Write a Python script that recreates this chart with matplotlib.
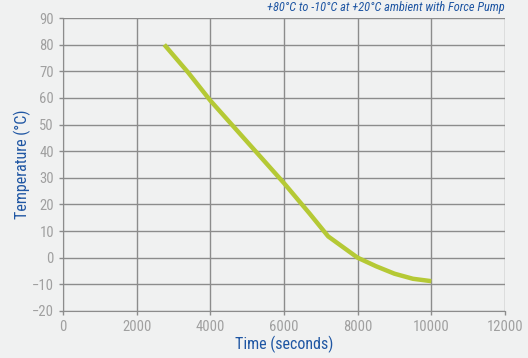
import matplotlib
matplotlib.use("Agg")
import matplotlib.pyplot as plt

time_s = [2750, 3400, 4000, 5000, 6000, 6700, 7200, 7600, 8000, 8500, 9000, 9500, 10000]
temp_c = [80, 69.5, 59, 43.5, 28, 16.5, 8, 4, 0, -3.2, -6, -7.9, -8.8]
xticks = [0, 2000, 4000, 6000, 8000, 10000, 12000]
yticks = [-20, -10, 0, 10, 20, 30, 40, 50, 60, 70, 80, 90]
title = "+80°C to -10°C at +20°C ambient with Force Pump"

fam = ["Roboto Condensed", "Roboto", "DejaVu Sans"]
bg = "#f0f1f1"
grid = "#8c8c8c"
blue = "#1f56a3"

fig = plt.figure(figsize=(5.28, 3.58), dpi=100, facecolor=bg)
ax = fig.add_axes([63/528, 47/358, 442/528, 293/358], facecolor=bg)
ax.plot(time_s, temp_c, color="#b5c935", lw=3.2, solid_capstyle="butt", zorder=3)
ax.set_xlim(0, 12000)
ax.set_ylim(-20, 90)
ax.set_xticks(xticks)
ax.set_yticks(yticks)
ax.grid(True, color=grid, lw=1)
for s in ax.spines.values():
    s.set_visible(False)
ax.spines["left"].set_visible(True)
ax.spines["bottom"].set_visible(True)
ax.spines["left"].set_color(grid)
ax.spines["bottom"].set_color(grid)
ax.tick_params(colors=grid, labelcolor="#a0a0a0", length=3, width=1, labelsize=10.5)
for lab in ax.get_xticklabels() + ax.get_yticklabels():
    lab.set_family(fam)
ax.set_xlabel("Time (seconds)", color=blue, fontsize=11.5, family=fam, labelpad=1)
ax.set_ylabel("Temperature (°C)", color=blue, fontsize=11.5, family=fam, labelpad=1)
ax.text(1.0, 1.012, title, transform=ax.transAxes, ha="right", va="bottom",
        color=blue, fontsize=8.9, style="italic", family=fam)
fig.savefig("out.png", dpi=100, facecolor=bg)
